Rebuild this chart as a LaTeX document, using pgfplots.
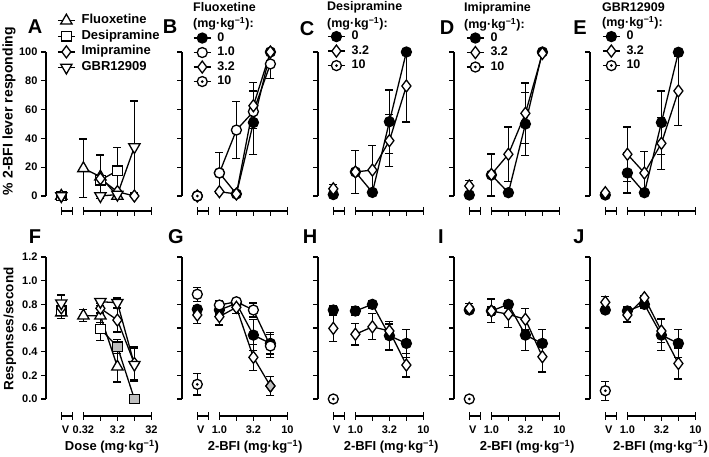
\documentclass[border=0pt]{standalone}
\usepackage{fontspec}
\setmainfont{Liberation Sans}
\usepackage{pgfplots}
\pgfplotsset{compat=1.18}

\pgfdeclareplotmark{odot}{%
  \pgfpathcircle{\pgfpointorigin}{\pgfplotmarksize}\pgfusepathqfillstroke
  \begin{pgfscope}\pgfsetfillcolor{black}%
  \pgfpathcircle{\pgfpointorigin}{0.3\pgfplotmarksize}\pgfusepathqfill
  \end{pgfscope}}

\newcommand{\tickfont}{\fontsize{11}{13}\selectfont\bfseries}
\newcommand{\labfont}{\fontsize{12.5}{15}\selectfont\bfseries}
\newcommand{\axfont}{\fontsize{13}{15}\selectfont\bfseries}
\newcommand{\panfont}{\fontsize{20}{24}\selectfont\bfseries}
\newcommand{\mgkg}{(mg·kg\textsuperscript{−1})}

\pgfplotsset{
 panel/.style={
  axis x line=none, axis y line*=left,
  x=17pt, xmin=-2.2, xmax=4.2, clip=false,
  anchor=south west,
  tick align=outside, major tick length=5pt,
  axis line style={line width=1.3pt, black},
  ytick style={line width=1.3pt, black},
  tick label style={font=\tickfont},
  /pgf/number format/assume math mode=true,
  legend cell align=left,
  legend style={draw=none, fill=none, anchor=north west,
    font=\labfont, inner sep=0pt, column sep=6pt, row sep=2.5pt,
    nodes={inner sep=0pt, text height=9pt, text depth=3pt}},
 },
 toprow/.style={panel, y=1.44pt, ymin=0, ymax=100, ytick={0,20,40,60,80,100}},
 botrow/.style={panel, y=118.33pt, ymin=0, ymax=1.2,
   ytick={0,0.2,0.4,0.6,0.8,1.0,1.2},
   yticklabel style={/pgf/number format/.cd, fixed, fixed zerofill, precision=1}},
 nolab/.style={yticklabels={}},
 eb/.style={error bars/y dir=both, error bars/y explicit,
   error bars/error bar style={line width=1.3pt, black},
   error bars/error mark options={rotate=90, mark size=4pt, line width=1.3pt, black}},
 mk/.style={black, line width=1.3pt, eb},
 filled/.style={mk, mark=*, mark size=5pt, mark options={solid, fill=black, draw=black, line width=1.3pt}},
 ocirc/.style={mk, mark=*, mark size=5pt, mark options={solid, fill=white, draw=black, line width=1.3pt}},
 dia/.style={mk, mark=diamond*, mark size=6pt, mark options={solid, fill=white, draw=black, line width=1.3pt}},
 tri/.style={mk, mark=triangle*, mark size=6.5pt, mark options={solid, fill=white, draw=black, line width=1.3pt}},
 dtri/.style={mk, mark=triangle*, mark size=6.5pt, mark options={solid, fill=white, draw=black, line width=1.3pt, rotate=180}},
 sq/.style={mk, mark=square*, mark size=4.8pt, mark options={solid, fill=white, draw=black, line width=1.3pt}},
 odot/.style={mk, mark=odot, mark size=5pt, mark options={solid, fill=white, draw=black, line width=1.3pt}},
 graysq/.style={black, only marks, mark=square*, mark size=4.8pt, mark options={solid, fill=black!25, draw=black, line width=1.3pt}},
 graydia/.style={black, only marks, mark=diamond*, mark size=6pt, mark options={solid, fill=black!25, draw=black, line width=1.3pt}},
}

% vehicle point (no line) and dose curve
\newcommand{\vd}[3]{%
  \addplot[#1, only marks, forget plot] coordinates {#2};
  \addplot[#1] coordinates {#3};}

% broken x axis: #1 line level, #2 end tick top, #3 end tick bottom, #4 inner tick bottom
\newcommand{\brokenx}[4]{%
  \draw[line width=1.3pt] (axis cs:-1.3,#1) -- (axis cs:-0.65,#1);
  \draw[line width=1.3pt] (axis cs:-1.3,#2) -- (axis cs:-1.3,#3) (axis cs:-0.65,#2) -- (axis cs:-0.65,#3);
  \draw[line width=1.3pt] (axis cs:0,#1) -- (axis cs:4,#1);
  \draw[line width=1.3pt] (axis cs:0,#2) -- (axis cs:0,#3) (axis cs:4,#2) -- (axis cs:4,#3)
     (axis cs:1,#1) -- (axis cs:1,#4) (axis cs:2,#1) -- (axis cs:2,#4) (axis cs:3,#1) -- (axis cs:3,#4);}
\newcommand{\topx}{\brokenx{-10.4}{-7.6}{-13.2}{-13.9}}
\newcommand{\botx}{\brokenx{-0.144}{-0.110}{-0.178}{-0.186}}

\begin{document}
\begin{tikzpicture}

% ================= TOP ROW =================
% A
\begin{axis}[toprow, at={(46pt,260pt)},
  legend style={at={(axis description cs:0.101,1.264)}, font=\fontsize{13}{15}\selectfont\bfseries, row sep=3.6pt}]
\vd{tri}{(-1.3,0) +- (0,0)}{(0,19.2) +- (0,20.4) (1,13.4) +- (0,15) (2,0) +- (0,0)}
\addlegendentry{Fluoxetine}
\vd{sq}{(-1.3,0) +- (0,0)}{(1,11) +- (0,0) (2,17.6) +- (0,16)}
\addlegendentry{Desipramine}
\vd{dia}{(-1.3,0) +- (0,0)}{(1,12) +- (0,0) (2,3) +- (0,0) (3,0) +- (0,0)}
\addlegendentry{Imipramine}
\vd{dtri}{(-1.3,0) +- (0,0)}{(1,0) +- (0,0) (2,1) +- (0,0) (3,34) +- (0,32)}
\addlegendentry{GBR12909}
\topx
\end{axis}

% B
\begin{axis}[toprow, nolab, at={(182pt,260pt)},
  legend style={at={(axis description cs:0.10,1.14)}}]
\vd{filled}{(-1.3,0) +- (0,0)}{(0,16) +- (0,14) (1,1.4) +- (0,0) (2,51) +- (0,22) (3,100) +- (0,0)}
\addlegendentry{0}
\vd{ocirc}{(-1.3,0) +- (0,0)}{(0,16) +- (0,0) (1,45.8) +- (0,20) (2,58.6) +- (0,0) (3,91.7) +- (0,10)}
\addlegendentry{1.0}
\vd{dia}{(-1.3,0) +- (0,0)}{(0,3) +- (0,0) (1,1.4) +- (0,0) (2,62.7) +- (0,16) (3,100) +- (0,0)}
\addlegendentry{3.2}
\addplot[odot, only marks, forget plot] coordinates {(-1.3,0) +- (0,0)};
\addlegendimage{odot}
\addlegendentry{10}
\topx
\end{axis}

% C
\begin{axis}[toprow, nolab, at={(318pt,260pt)},
  legend style={at={(axis description cs:0.083,1.15)}}]
\vd{filled}{(-1.3,1) +- (0,0)}{(0,16.7) +- (0,15) (1,2.5) +- (0,0) (2,51.6) +- (0,22) (3,100) +- (0,0)}
\addlegendentry{0}
\vd{dia}{(-1.3,5) +- (0,3)}{(0,16.7) +- (0,0) (1,18) +- (0,17) (2,38.4) +- (0,18) (3,76.4) +- (0,25)}
\addlegendentry{3.2}
\addlegendimage{odot}
\addlegendentry{10}
\topx
\end{axis}

% D
\begin{axis}[toprow, nolab, at={(454pt,260pt)},
  legend style={at={(axis description cs:0.11,1.14)}}]
\vd{filled}{(-1.3,0.7) +- (0,0)}{(0,14.6) +- (0,14.5) (1,2.3) +- (0,0) (2,50) +- (0,22) (3,100) +- (0,0)}
\addlegendentry{0}
\vd{dia}{(-1.3,7) +- (0,4)}{(0,15) +- (0,0) (1,29) +- (0,19) (2,57.4) +- (0,21) (3,99) +- (0,0)}
\addlegendentry{3.2}
\addlegendimage{odot}
\addlegendentry{10}
\topx
\end{axis}

% E
\begin{axis}[toprow, nolab, at={(590pt,260pt)},
  legend style={at={(axis description cs:0.11,1.15)}}]
\vd{filled}{(-1.3,0.7) +- (0,0)}{(0,16) +- (0,14) (1,2.3) +- (0,0) (2,51) +- (0,22) (3,99.8) +- (0,0)}
\addlegendentry{0}
\vd{dia}{(-1.3,2.3) +- (0,0)}{(0,29) +- (0,19) (1,16) +- (0,15) (2,36.6) +- (0,18) (3,73) +- (0,24)}
\addlegendentry{3.2}
\addlegendimage{odot}
\addlegendentry{10}
\topx
\end{axis}

% ================= BOTTOM ROW =================
% F
\begin{axis}[botrow, at={(46pt,57pt)}]
\vd{tri}{(-1.3,0.73) +- (0,0.05)}{(0,0.704) +- (0,0.05) (1,0.704) +- (0,0.06) (2,0.273) +- (0,0.13)}
\vd{sq}{(-1.3,0.745) +- (0,0.04)}{(1,0.592) +- (0,0.10) (2,0.442) +- (0,0.06) (3,0) +- (0,0)}
\addplot[graysq] coordinates {(2,0.442) (3,0)};
\vd{dia}{(-1.3,0.77) +- (0,0.05)}{(1,0.766) +- (0,0.04) (2,0.667) +- (0,0.1) (3,0.30) +- (0,0.14)}
\vd{dtri}{(-1.3,0.81) +- (0,0.07)}{(1,0.822) +- (0,0.03) (2,0.814) +- (0,0.04) (3,0.29) +- (0,0.14)}
\botx
\node[font=\tickfont] at (axis cs:-1.05,-0.262) {V};
\node[font=\tickfont] at (axis cs:0,-0.262) {0.32};
\node[font=\tickfont] at (axis cs:2,-0.262) {3.2};
\node[font=\tickfont] at (axis cs:4,-0.262) {32};
\node[font=\axfont] at (axis cs:1.68,-0.406) {Dose \mgkg};
\end{axis}

% G
\begin{axis}[botrow, nolab, at={(182pt,57pt)}]
\vd{filled}{(-1.3,0.758) +- (0,0.03)}{(0,0.752) +- (0,0.04) (1,0.808) +- (0,0.03) (2,0.54) +- (0,0.13) (3,0.47) +- (0,0.09)}
\vd{ocirc}{(-1.3,0.885) +- (0,0.06)}{(0,0.794) +- (0,0.04) (1,0.822) +- (0,0.03) (2,0.752) +- (0,0.06) (3,0.448) +- (0,0.10)}
\vd{dia}{(-1.3,0.71) +- (0,0.07)}{(0,0.696) +- (0,0.07) (1,0.775) +- (0,0.05) (2,0.352) +- (0,0.11) (3,0.11) +- (0,0.08)}
\addplot[graydia] coordinates {(3,0.11)};
\addplot[odot, only marks] coordinates {(-1.3,0.124) +- (0,0.09)};
\botx
\node[font=\tickfont] at (axis cs:-1.1,-0.262) {V};
\node[font=\tickfont] at (axis cs:0,-0.262) {1.0};
\node[font=\tickfont] at (axis cs:2,-0.262) {3.2};
\node[font=\tickfont] at (axis cs:4,-0.262) {10};
\node[font=\axfont] at (axis cs:2.1,-0.406) {2-BFI \mgkg};
\end{axis}

% H
\begin{axis}[botrow, nolab, at={(318pt,57pt)}]
\vd{filled}{(-1.3,0.752) +- (0,0.04)}{(0,0.744) +- (0,0.04) (1,0.80) +- (0,0.03) (2,0.535) +- (0,0.12) (3,0.47) +- (0,0.12)}
\vd{dia}{(-1.3,0.597) +- (0,0.11)}{(0,0.547) +- (0,0.09) (1,0.61) +- (0,0.11) (2,0.575) +- (0,0.06) (3,0.287) +- (0,0.10)}
\addplot[odot, only marks] coordinates {(-1.3,0) +- (0,0)};
\botx
\node[font=\tickfont] at (axis cs:-1.1,-0.262) {V};
\node[font=\tickfont] at (axis cs:0,-0.262) {1.0};
\node[font=\tickfont] at (axis cs:2,-0.262) {3.2};
\node[font=\tickfont] at (axis cs:4,-0.262) {10};
\node[font=\axfont] at (axis cs:2.1,-0.406) {2-BFI \mgkg};
\end{axis}

% I
\begin{axis}[botrow, nolab, at={(454pt,57pt)}]
\vd{filled}{(-1.3,0.752) +- (0,0.03)}{(0,0.744) +- (0,0.04) (1,0.80) +- (0,0.03) (2,0.54) +- (0,0.13) (3,0.47) +- (0,0.12)}
\vd{dia}{(-1.3,0.766) +- (0,0.04)}{(0,0.744) +- (0,0.10) (1,0.716) +- (0,0.11) (2,0.673) +- (0,0.09) (3,0.357) +- (0,0.13)}
\addplot[odot, only marks] coordinates {(-1.3,0) +- (0,0)};
\botx
\node[font=\tickfont] at (axis cs:-1.1,-0.262) {V};
\node[font=\tickfont] at (axis cs:0,-0.262) {1.0};
\node[font=\tickfont] at (axis cs:2,-0.262) {3.2};
\node[font=\tickfont] at (axis cs:4,-0.262) {10};
\node[font=\axfont] at (axis cs:2.1,-0.406) {2-BFI \mgkg};
\end{axis}

% J
\begin{axis}[botrow, nolab, at={(590pt,57pt)}]
\vd{filled}{(-1.3,0.752) +- (0,0.03)}{(0,0.744) +- (0,0.04) (1,0.80) +- (0,0.03) (2,0.54) +- (0,0.13) (3,0.47) +- (0,0.12)}
\vd{dia}{(-1.3,0.817) +- (0,0.05)}{(0,0.71) +- (0,0.06) (1,0.856) +- (0,0.02) (2,0.575) +- (0,0.10) (3,0.30) +- (0,0.13)}
\addplot[odot, only marks] coordinates {(-1.3,0.07) +- (0,0.08)};
\botx
\node[font=\tickfont] at (axis cs:-1.1,-0.262) {V};
\node[font=\tickfont] at (axis cs:0,-0.262) {1.0};
\node[font=\tickfont] at (axis cs:2,-0.262) {3.2};
\node[font=\tickfont] at (axis cs:4,-0.262) {10};
\node[font=\axfont] at (axis cs:1.95,-0.406) {2-BFI \mgkg};
\end{axis}

% ================= TEXT =================
\node[rotate=90, font=\fontsize{14}{16}\selectfont\bfseries] at (9pt,345pt) {\% 2-BFI lever responding};
\node[rotate=90, font=\fontsize{13.5}{16}\selectfont\bfseries] at (10pt,127pt) {Responses/second};

\node[font=\panfont] at (35pt,429pt) {A};
\node[font=\panfont] at (170pt,429pt) {B};
\node[font=\panfont] at (307pt,427pt) {C};
\node[font=\panfont] at (447pt,428pt) {D};
\node[font=\panfont] at (580pt,428pt) {E};
\node[font=\panfont] at (35pt,219pt) {F};
\node[font=\panfont] at (176pt,219pt) {G};
\node[font=\panfont] at (310pt,219pt) {H};
\node[font=\panfont] at (441pt,219pt) {I};
\node[font=\panfont] at (579pt,219pt) {J};

\node[font=\labfont, anchor=west, inner sep=0pt] at (193pt,449pt) {Fluoxetine};
\node[font=\labfont, anchor=west, inner sep=0pt] at (193pt,432pt) {\mgkg:};
\node[font=\labfont, anchor=west, inner sep=0pt] at (327pt,449pt) {Desipramine};
\node[font=\labfont, anchor=west, inner sep=0pt] at (327pt,432pt) {\mgkg:};
\node[font=\labfont, anchor=west, inner sep=0pt] at (464pt,448pt) {Imipramine};
\node[font=\labfont, anchor=west, inner sep=0pt] at (464pt,431pt) {\mgkg:};
\node[font=\labfont, anchor=west, inner sep=0pt] at (602pt,449pt) {GBR12909};
\node[font=\labfont, anchor=west, inner sep=0pt] at (602pt,433pt) {\mgkg:};

\pgfresetboundingbox
\useasboundingbox (0pt,0pt) rectangle (709pt,456pt);
\end{tikzpicture}
\end{document}
